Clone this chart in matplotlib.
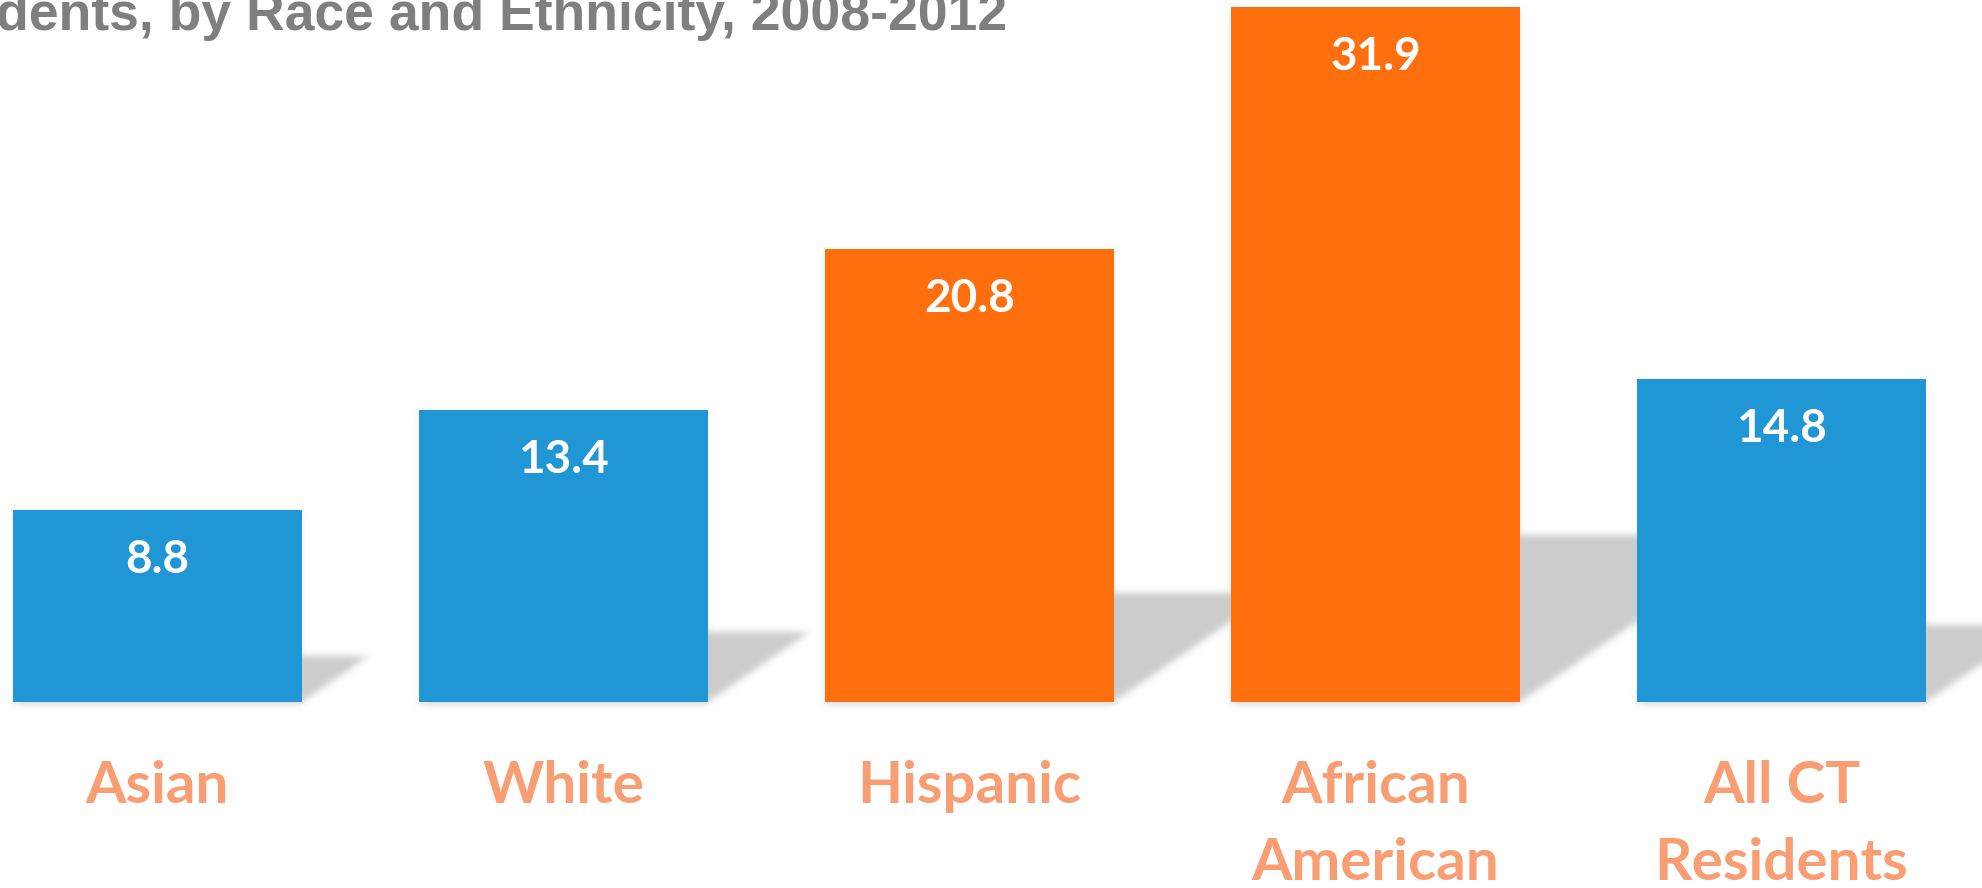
import matplotlib
matplotlib.use("Agg")
import matplotlib.pyplot as plt
import numpy as np
from matplotlib.path import Path

# poverty rate by group, 2008-2012
groups = [["Asian"], ["White"], ["Hispanic"], ["African", "American"], ["All CT", "Residents"]]
rates = [8.8, 13.4, 20.8, 31.9, 14.8]
colors = ["#2196D4", "#2196D4", "#FF6F0E", "#FF6F0E", "#2196D4"]

title = "dents, by Race and Ethnicity, 2008-2012"

W, H = 1982, 888
fig = plt.figure(figsize=(W / 100, H / 100), dpi=100)
ax = fig.add_axes([0, 0, 1, 1])
ax.set_xlim(-157.5 / 406, (W - 157.5) / 406)
ax.set_ylim(-186 / 21.8, (H - 186) / 21.8)
ax.axis("off")

bar_w = 0.711
x = np.arange(len(rates))
ax.bar(x, rates, width=bar_w, color=colors, zorder=3)

# soft perspective shadows cast to the right of each bar
px_x = ax.transData.transform((1, 0))[0] - ax.transData.transform((0, 0))[0]
px_y = ax.transData.transform((0, 1))[1] - ax.transData.transform((0, 0))[1]
gy, gx = np.mgrid[0:H, 0:W]
pts = np.column_stack([gx.ravel() + 0.5, gy.ravel() + 0.5])
alpha = np.zeros(H * W)
for xi, v in zip(x, rates):
    hs = 0.24 * v
    dx = 1.45 * hs * px_y / px_x
    l, r = xi - bar_w / 2, xi + bar_w / 2
    poly = [(l, 0), (r, 0), (r + dx, hs), (l + dx, hs), (l, 0)]
    path = Path(ax.transData.transform(poly))
    alpha = np.maximum(alpha, path.contains_points(pts) * 1.0)
    # faint line under the bar
    rect = [(l, 0), (r, 0), (r, v), (l, v), (l, 0)]
    rp = ax.transData.transform(rect) + np.array([0, -3])
    alpha = np.maximum(alpha, Path(rp).contains_points(pts) * 0.35)
alpha = alpha.reshape(H, W)


def box_blur(a, k, axis):
    c = np.cumsum(np.pad(a, [(k, k) if i == axis else (0, 0) for i in range(2)], mode="edge"), axis=axis)
    c = np.insert(c, 0, 0, axis=axis)
    n = a.shape[axis]
    hi = np.take(c, np.arange(2 * k + 1, n + 2 * k + 1), axis=axis)
    lo = np.take(c, np.arange(0, n), axis=axis)
    return (hi - lo) / (2 * k + 1)


for _ in range(3):
    alpha = box_blur(alpha, 3, 0)
    alpha = box_blur(alpha, 3, 1)

img = np.zeros((H, W, 4))
img[..., :3] = 0.8
img[..., 3] = alpha
ax.imshow(img, origin="lower", extent=(*ax.get_xlim(), *ax.get_ylim()),
          aspect="auto", zorder=1, interpolation="nearest")

# values inside the bars
for xi, v in zip(x, rates):
    ax.annotate(f"{v}", xy=(xi, v), xytext=(0, -63 * 0.72), textcoords="offset points",
                ha="center", va="baseline", fontsize=33, fontfamily="Lato",
                fontweight="bold", color="white", zorder=4)

# category labels below the baseline
for xi, lines in zip(x, groups):
    for j, line in enumerate(lines):
        ax.annotate(line, xy=(xi, 0), xytext=(0, -(101 + 77 * j) * 0.72),
                    textcoords="offset points", ha="center", va="baseline",
                    fontsize=42, fontfamily="Lato", fontweight="bold", color="#F89E72")

fig.text(-4 / W, 1 - 30 / H, title, ha="left", va="baseline", fontsize=38.5,
         fontfamily="Liberation Sans", fontweight="bold", color="#7F7F7F")

fig.savefig("out.png", dpi=100)
